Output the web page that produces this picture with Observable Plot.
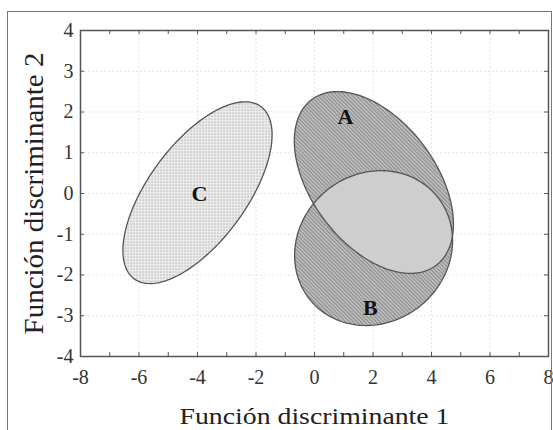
<!DOCTYPE html>
<html>
<head>
<meta charset="utf-8">
<script src="https://cdn.jsdelivr.net/npm/d3@7"></script>
<script src="https://cdn.jsdelivr.net/npm/@observablehq/plot@0.6"></script>
<style>
  body { margin: 0; background: white; }
  #wrap { position: relative; width: 553px; height: 430px; overflow: hidden; background: white; }
  #wrap svg { position: absolute; left: 0; top: 0; }
  #wrap svg, #wrap svg text { font-family: "Liberation Serif", "Times New Roman", serif !important; }
  #outer { position: absolute; left: 7px; top: 11px; width: 545px; height: 440px; box-sizing: border-box; border: 1.5px solid #777; pointer-events: none; }
</style>
</head>
<body>
<div id="wrap"><div id="outer"></div></div>
<script>
// ---- data ----
const groups = ["A", "B", "C"];
const centerX = [2.03, 2.02, -4.0];
const centerY = [0.27, -1.34, 0.02];
const halfWidth = [2.72, 2.70, 2.55];   // half extent along x
const halfHeight = [2.23, 1.90, 2.23];  // half extent along y
const tiltY = [-1.02, 0.18, 1.42];      // y offset of the rightmost point from the centre
const labelX = [1.06, 1.91, -3.93];
const labelY = [1.87, -2.80, 0.0];

const xTicks = [-8, -6, -4, -2, 0, 2, 4, 6, 8];
const xTickLabels = ["-8", "-6", "-4", "-2", "0", "2", "4", "6", "8"];
const yTicks = [-4, -3, -2, -1, 0, 1, 2, 3, 4];
const yTickLabels = ["-4", "-3", "-2", "-1", "0", "1", "2", "3", "4"];
const xMinorTicks = [-7, -6, -5, -4, -3, -2, -1, 0, 1, 2, 3, 4, 5, 6, 7];
const yMinorTicks = [-3, -2, -1, 0, 1, 2, 3];
const xTitle = "Función discriminante 1";
const yTitle = "Función discriminante 2";

// ---- ellipse outlines built from the parameters above ----
function outline(i) {
  const q = Math.sqrt(halfHeight[i] ** 2 - tiltY[i] ** 2);
  const pts = [];
  const n = 180;
  for (let k = 0; k <= n; k++) {
    const t = 2 * Math.PI * k / n;
    pts.push({
      x: centerX[i] + halfWidth[i] * Math.cos(t),
      y: centerY[i] + tiltY[i] * Math.cos(t) + q * Math.sin(t)
    });
  }
  return pts;
}
const ellA = outline(0), ellB = outline(1), ellC = outline(2);

const W = 553, H = 430;
const mL = 80, mR = 5, mT = 30, mB = 74;
const frameW = W - mL - mR, frameH = H - mT - mB;
const edge = "#555";

const chart = Plot.plot({
  width: W, height: H,
  marginLeft: mL, marginRight: mR, marginTop: mT, marginBottom: mB,
  style: { fontFamily: "Liberation Serif, serif", fontSize: "20px", color: "#333", background: "transparent" },
  x: { domain: [-8, 8], ticks: xTicks, tickSize: 0, tickPadding: 13, label: null,
       tickFormat: d => xTickLabels[xTicks.indexOf(d)] },
  y: { domain: [-4, 4], ticks: yTicks, tickSize: 0, tickPadding: 7, label: null,
       tickFormat: d => yTickLabels[yTicks.indexOf(d)] },
  marks: [
    Plot.ruleX(xTicks, { x: d => d, stroke: "#e4e4e4", strokeDasharray: "2,2" }),
    Plot.ruleY(yTicks, { y: d => d, stroke: "#e4e4e4", strokeDasharray: "2,2" }),
    Plot.line(ellC, { x: "x", y: "y", fill: "url(#dotsC)", stroke: edge, strokeWidth: 1.3, curve: "linear" }),
    Plot.line(ellA, { x: "x", y: "y", fill: "url(#hatch)", stroke: "none", curve: "linear", ariaDescription: "A-fill" }),
    Plot.line(ellB, { x: "x", y: "y", fill: "url(#hatch)", stroke: "none", curve: "linear" }),
    Plot.line(ellB, { x: "x", y: "y", fill: "url(#overlap)", stroke: "none", curve: "linear", ariaDescription: "B-overlap" }),
    Plot.line(ellA, { x: "x", y: "y", fill: "none", stroke: edge, strokeWidth: 1.3, curve: "linear" }),
    Plot.line(ellB, { x: "x", y: "y", fill: "none", stroke: edge, strokeWidth: 1.3, curve: "linear" }),
    Plot.text(groups, { x: (d, i) => labelX[i], y: (d, i) => labelY[i], text: d => d,
       fontWeight: "bold", fontSize: 22, fill: "#111" }),
    Plot.tickX(xMinorTicks, { x: d => d, insetTop: frameH - 4, stroke: edge }),
    Plot.tickX(xMinorTicks, { x: d => d, insetBottom: frameH - 4, stroke: edge }),
    Plot.tickY(yMinorTicks, { y: d => d, insetRight: frameW - 4, stroke: edge }),
    Plot.tickY(yMinorTicks, { y: d => d, insetLeft: frameW - 4, stroke: edge }),
    Plot.frame({ stroke: edge, strokeWidth: 1.5 }),
    Plot.text([xTitle], { text: d => d, frameAnchor: "bottom", dy: 67, lineAnchor: "bottom", textAnchor: "middle",
       fontSize: 23, fill: "#222", ariaDescription: "x-title" }),
    Plot.text([yTitle], { text: d => d, frameAnchor: "left", dx: -38, rotate: -90, lineAnchor: "bottom", textAnchor: "middle",
       fontSize: 27, fill: "#222", ariaDescription: "y-title" })
  ]
});

document.getElementById("wrap").insertBefore(chart, document.getElementById("outer"));

// patterns and the A∩B clip
const ns = "http://www.w3.org/2000/svg";
const aPath = chart.querySelector('g[aria-description="A-fill"] path');
const dA = aPath ? aPath.getAttribute("d") : "";
const defs = document.createElementNS(ns, "defs");
defs.innerHTML = `
  <pattern id="dotsC" patternUnits="userSpaceOnUse" width="3" height="3">
    <rect width="3" height="3" fill="#eeeeee"></rect>
    <rect x="1" y="1" width="1.2" height="1.2" fill="#9c9c9c"></rect>
  </pattern>
  <pattern id="hatch" patternUnits="userSpaceOnUse" width="2.7" height="2.7" patternTransform="rotate(-45)">
    <rect width="2.7" height="2.7" fill="#c6c6c6"></rect>
    <line x1="0.7" y1="-1" x2="0.7" y2="3.7" stroke="#7c7c7c" stroke-width="1"></line>
  </pattern>
  <pattern id="overlap" patternUnits="userSpaceOnUse" width="2" height="2">
    <rect width="2" height="2" fill="#d6d6d6"></rect>
    <rect width="1" height="1" fill="#b6b6b6"></rect>
  </pattern>
  <clipPath id="clipA" clipPathUnits="userSpaceOnUse"><path d="${dA}"></path></clipPath>`;
chart.insertBefore(defs, chart.firstChild);
const ov = chart.querySelector('g[aria-description="B-overlap"]');
if (ov) ov.setAttribute("clip-path", "url(#clipA)");

const xt = chart.querySelector('g[aria-description="x-title"] text');
if (xt) { xt.setAttribute("textLength", "270"); xt.setAttribute("lengthAdjust", "spacingAndGlyphs"); }
const yt = chart.querySelector('g[aria-description="y-title"] text');
if (yt) { yt.setAttribute("textLength", "282"); yt.setAttribute("lengthAdjust", "spacingAndGlyphs"); }
</script>
</body>
</html>
